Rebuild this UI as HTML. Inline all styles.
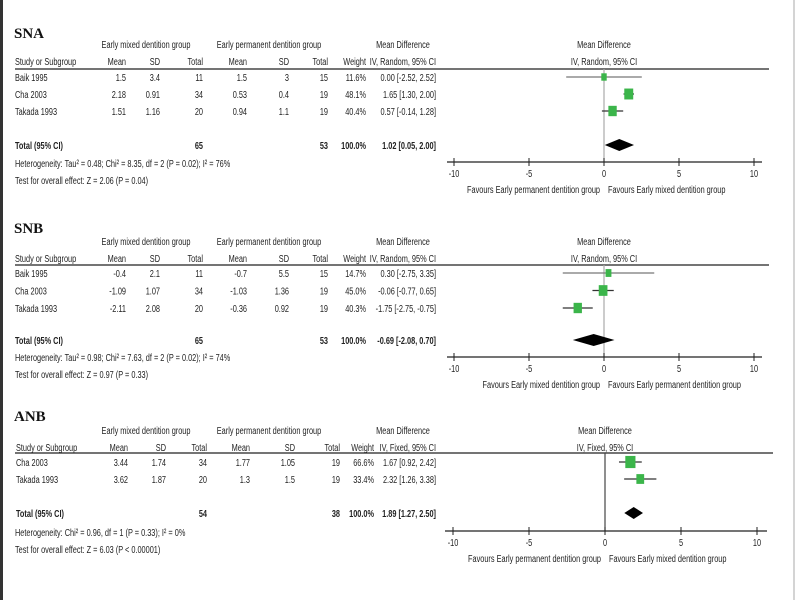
<!DOCTYPE html>
<html><head><meta charset="utf-8"><style>
body{margin:0;background:#fff}
svg{display:block}
text{font-family:"Liberation Sans",sans-serif;font-size:10.5px;fill:#222}
.b{font-weight:bold}
.t{font-family:"Liberation Serif",serif;font-size:15px;font-weight:bold;fill:#111}
</style></head><body>
<svg id="fig" width="800" height="600" viewBox="0 0 800 600">
<rect x="0" y="0" width="800" height="600" fill="#fff"/>
<rect x="0" y="0" width="3" height="600" fill="#333"/>
<line x1="794" y1="0" x2="794" y2="600" stroke="#aaa"/>
</svg>
<script>
// ---- data ----
const snaStudies=["Baik 1995","Cha 2003","Takada 1993"];
const snaMixMean=["1.5","2.18","1.51"],snaMixSD=["3.4","0.91","1.16"],snaMixN=["11","34","20"];
const snaPermMean=["1.5","0.53","0.94"],snaPermSD=["3","0.4","1.1"],snaPermN=["15","19","19"];
const snaWeight=[11.6,48.1,40.4];
const snaMD=[0.00,1.65,0.57],snaLo=[-2.52,1.30,-0.14],snaHi=[2.52,2.00,1.28];
const snaTotal=[1.02,0.05,2.00];

const snbStudies=["Baik 1995","Cha 2003","Takada 1993"];
const snbMixMean=["-0.4","-1.09","-2.11"],snbMixSD=["2.1","1.07","2.08"],snbMixN=["11","34","20"];
const snbPermMean=["-0.7","-1.03","-0.36"],snbPermSD=["5.5","1.36","0.92"],snbPermN=["15","19","19"];
const snbWeight=[14.7,45.0,40.3];
const snbMD=[0.30,-0.06,-1.75],snbLo=[-2.75,-0.77,-2.75],snbHi=[3.35,0.65,-0.75];
const snbTotal=[-0.69,-2.08,0.70];

const anbStudies=["Cha 2003","Takada 1993"];
const anbMixMean=["3.44","3.62"],anbMixSD=["1.74","1.87"],anbMixN=["34","20"];
const anbPermMean=["1.77","1.3"],anbPermSD=["1.05","1.5"],anbPermN=["19","19"];
const anbWeight=[66.6,33.4];
const anbMD=[1.67,2.32],anbLo=[0.92,1.26],anbHi=[2.42,3.38];
const anbTotal=[1.89,1.27,2.50];

const axisTicks=[-10,-5,0,5,10];

const svg=document.getElementById('fig');
const NS='http://www.w3.org/2000/svg';
const SX=0.7;
function mk(tag,attrs,txt){const e=document.createElementNS(NS,tag);
  if(tag==='text' && !(attrs.class==='t')){const x=attrs.x,y=attrs.y;delete attrs.x;delete attrs.y;attrs.transform=`translate(${x},${y}) scale(${SX},1)`;}
  for(const k in attrs)e.setAttribute(k,attrs[k]);if(txt!==undefined)e.textContent=txt;svg.appendChild(e);return e;}
function f2(v){return v.toFixed(2);}

function panel(p){
  const L=p.layout;
  let e;
  e=mk('text',{x:14,y:L.title,class:'t'},p.name);
  
  
  e=mk('text',{x:146,y:L.h1,'text-anchor':'middle'},'Early mixed dentition group');
  
  
  e=mk('text',{x:269,y:L.h1,'text-anchor':'middle'},'Early permanent dentition group');
  
  
  e=mk('text',{x:403,y:L.h1,'text-anchor':'middle'},'Mean Difference');
  
  
  e=mk('text',{x:p.zero,y:L.h1,'text-anchor':'middle'},'Mean Difference');
  
  
  const C=p.cols;
  const hdr=[['Study or Subgroup',C[0],'start'],['Mean',C[1],'end'],['SD',C[2],'end'],['Total',C[3],'end'],['Mean',C[4],'end'],['SD',C[5],'end'],['Total',C[6],'end'],['Weight',C[7],'end'],[p.method,C[8],'end']];
  hdr.forEach(h=>{e=mk('text',{x:h[1],y:L.h2,'text-anchor':h[2]},h[0]);
    
    });
  e=mk('text',{x:p.zero,y:L.h2,'text-anchor':'middle'},p.method);
  
  
  e=mk('line',{x1:15,y1:L.ul,x2:p.ulEnd,y2:L.ul,stroke:'#222','stroke-width':1.2});
  
  
  const X=v=>p.zero+v*p.scale;
  e=mk('line',{x1:X(0),y1:L.ul,x2:X(0),y2:L.axis,stroke:p.zeroCol,'stroke-width':1.2});
  
  
  p.studies.forEach((s,i)=>{
    const cy=L.r0+i*L.step, ty=cy+4;
    const vals=[[s,C[0],'start'],[p.mm[i],C[1],'end'],[p.ms[i],C[2],'end'],[p.mn[i],C[3],'end'],[p.pm[i],C[4],'end'],[p.ps[i],C[5],'end'],[p.pn[i],C[6],'end'],[p.w[i].toFixed(1)+'%',C[7],'end'],[f2(p.md[i])+' ['+f2(p.lo[i])+', '+f2(p.hi[i])+']',C[8],'end']];
    vals.forEach(v=>{e=mk('text',{x:v[1],y:ty,'text-anchor':v[2]},v[0]);
      
      });
    e=mk('line',{x1:X(p.lo[i]),y1:cy,x2:X(p.hi[i]),y2:cy,stroke:p.w[i]<20?'#777':'#333','stroke-width':1.2});
    
    
    const sz=2+Math.sqrt(p.w[i])*1.0;
    e=mk('rect',{x:X(p.md[i])-sz/2,y:cy-sz/2-1,width:sz,height:sz+2,fill:'#3bb54a'});
    
    
  });
  const ty=L.tot+4;
  const tv=[['Total (95% CI)',C[0],'start'],[p.totN[0],C[3],'end'],[p.totN[1],C[6],'end'],['100.0%',C[7],'end'],[f2(p.tot[0])+' ['+f2(p.tot[1])+', '+f2(p.tot[2])+']',C[8],'end']];
  tv.forEach(v=>{e=mk('text',{x:v[1],y:ty,'text-anchor':v[2],class:'b'},v[0]);
    
    });
  e=mk('polygon',{points:`${X(p.tot[1])},${L.tot} ${X(p.tot[0])},${L.tot-6} ${X(p.tot[2])},${L.tot} ${X(p.tot[0])},${L.tot+6}`,fill:'#000'});
  
  
  e=mk('text',{x:15,y:L.het},p.het);
  
  
  e=mk('text',{x:15,y:L.test},p.test);
  
  
  e=mk('line',{x1:p.axL,y1:L.axis,x2:p.axR,y2:L.axis,stroke:'#222','stroke-width':1.3});
  
  
  axisTicks.forEach(t=>{
    e=mk('line',{x1:X(t),y1:L.axis-4,x2:X(t),y2:L.axis+4,stroke:'#222'});
    
    
    e=mk('text',{x:X(t),y:L.axis+15,'text-anchor':'middle'},String(t));
    
    
  });
  e=mk('text',{x:X(0)-4,y:L.axis+31,'text-anchor':'end'},p.favL);
  
  
  e=mk('text',{x:X(0)+4,y:L.axis+31,'text-anchor':'start'},p.favR);
  
  
}
const FP='Favours Early permanent dentition group',FM='Favours Early mixed dentition group';
panel({key:'sna',name:'SNA',method:'IV, Random, 95% CI',studies:snaStudies,mm:snaMixMean,ms:snaMixSD,mn:snaMixN,pm:snaPermMean,ps:snaPermSD,pn:snaPermN,w:snaWeight,md:snaMD,lo:snaLo,hi:snaHi,tot:snaTotal,totN:['65','53'],
  het:'Heterogeneity: Tau² = 0.48; Chi² = 8.35, df = 2 (P = 0.02); I² = 76%',test:'Test for overall effect: Z = 2.06 (P = 0.04)',favL:FP,favR:FM,
  zero:604,scale:15,zeroCol:'#aaa',axL:447,axR:762,ulEnd:769,cols:[15,126,160,203,247,289,328,366,436],
  layout:{title:38,h1:48,h2:65,ul:69,r0:77,step:17,tot:145,het:167,test:184,axis:162}});
panel({key:'snb',name:'SNB',method:'IV, Random, 95% CI',studies:snbStudies,mm:snbMixMean,ms:snbMixSD,mn:snbMixN,pm:snbPermMean,ps:snbPermSD,pn:snbPermN,w:snbWeight,md:snbMD,lo:snbLo,hi:snbHi,tot:snbTotal,totN:['65','53'],
  het:'Heterogeneity: Tau² = 0.98; Chi² = 7.63, df = 2 (P = 0.02); I² = 74%',test:'Test for overall effect: Z = 0.97 (P = 0.33)',favL:FM,favR:FP,
  zero:604,scale:15,zeroCol:'#aaa',axL:447,axR:762,ulEnd:769,cols:[15,126,160,203,247,289,328,366,436],
  layout:{title:233,h1:245,h2:262,ul:265,r0:273,step:17.5,tot:340,het:361,test:378,axis:357}});
panel({key:'anb',name:'ANB',method:'IV, Fixed, 95% CI',studies:anbStudies,mm:anbMixMean,ms:anbMixSD,mn:anbMixN,pm:anbPermMean,ps:anbPermSD,pn:anbPermN,w:anbWeight,md:anbMD,lo:anbLo,hi:anbHi,tot:anbTotal,totN:['54','38'],
  het:'Heterogeneity: Chi² = 0.96, df = 1 (P = 0.33); I² = 0%',test:'Test for overall effect: Z = 6.03 (P < 0.00001)',favL:FP,favR:FM,
  zero:605,scale:15.2,zeroCol:'#444',axL:445,axR:767,ulEnd:773,cols:[16,128,166,207,250,295,340,374,436],
  layout:{title:421,h1:434,h2:451,ul:453,r0:462,step:17,tot:513,het:536,test:553,axis:531}});
</script>
</body></html>
